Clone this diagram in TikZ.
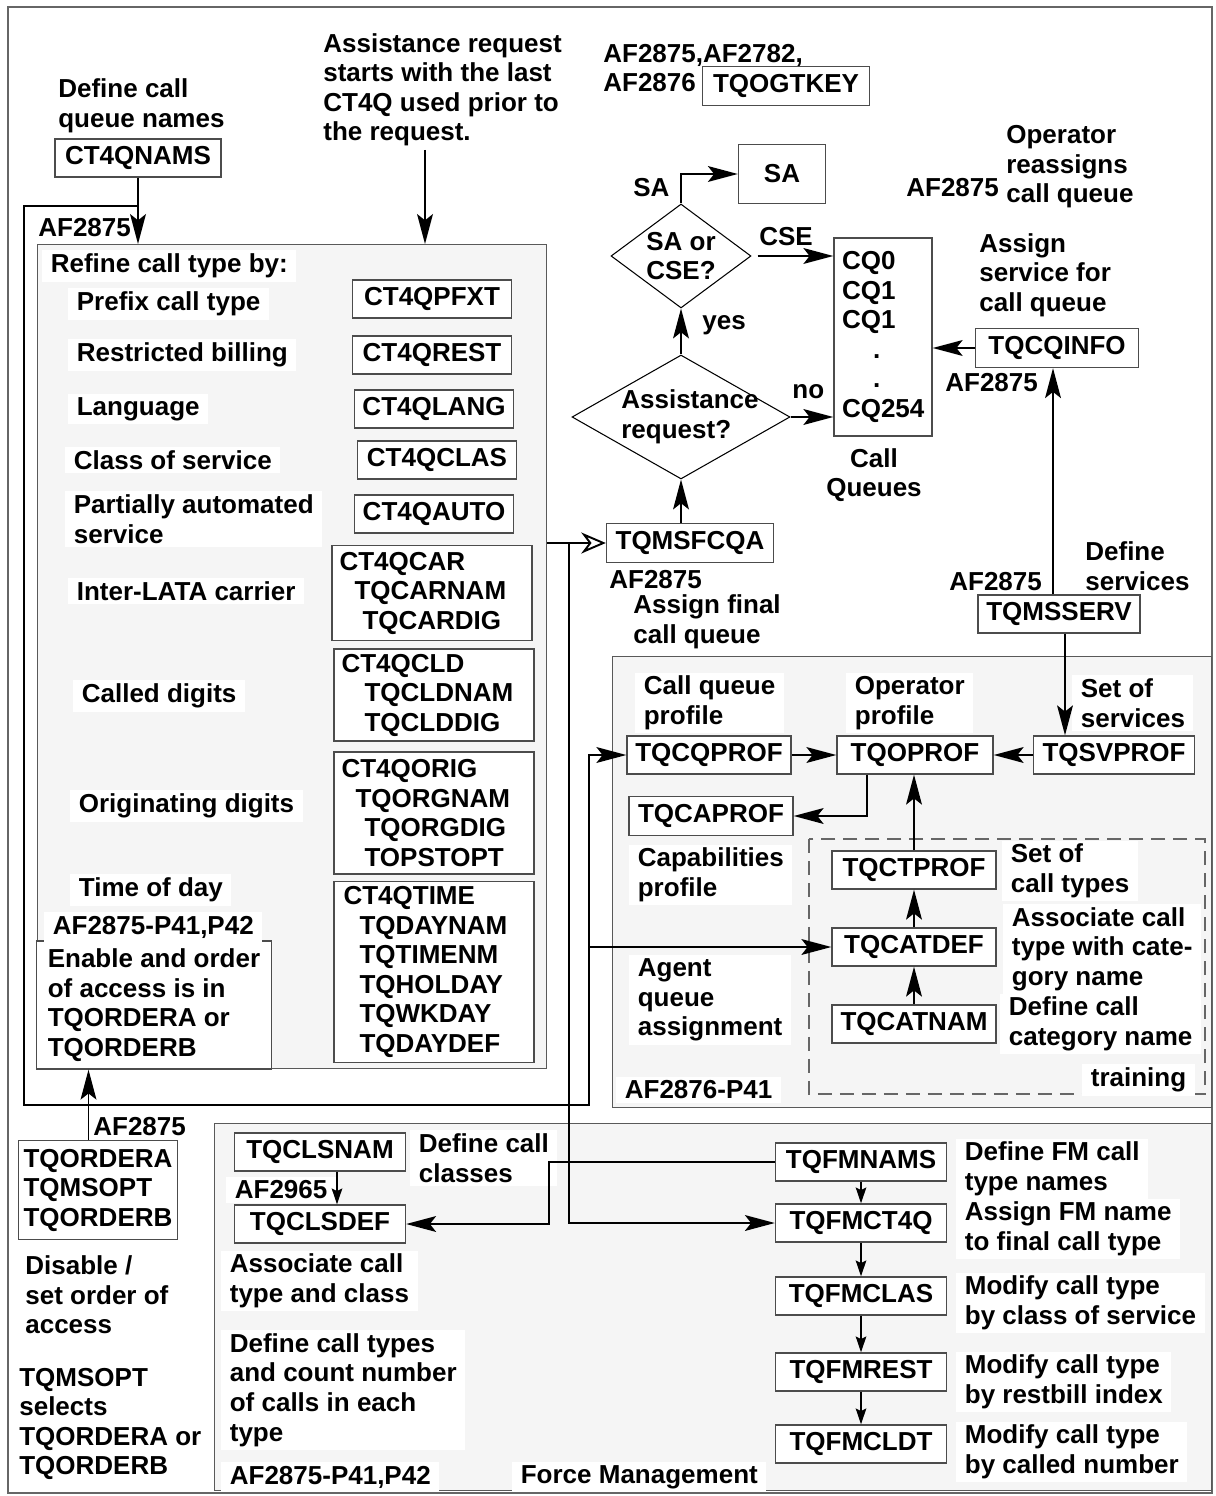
\documentclass[tikz,border=0pt]{standalone}
\usepackage{fontspec}
\setmainfont{Liberation Sans}
\usetikzlibrary{arrows.meta,shapes.geometric}

\tikzset{
  tbl/.style={draw=black!70,fill=white,line width=0.8pt,inner sep=0pt},
  stack/.style={tbl,align=left,inner xsep=0.15cm,text width=3.7cm},
  zone/.style={draw=black!65,fill=black!4,line width=0.8pt,inner sep=0pt,anchor=north west},
  note/.style={fill=white,inner xsep=0.17cm,inner ysep=2pt,anchor=west},
  para/.style={note,align=left},
  bare/.style={inner sep=0pt,align=left,anchor=west},
  decide/.style={diamond,draw,fill=white,line width=0.6pt,inner sep=0pt},
  wire/.style={line width=1.1pt},
  flow/.style={wire,-{Stealth[length=17pt,width=9pt,inset=3.5pt]}},
  tick/.style={wire,-{Stealth[length=9pt,width=6pt,inset=1.5pt]}},
  hollow/.style={wire,-{Stealth[open,length=14pt,width=12pt,inset=4.5pt]}}
}

\begin{document}
\begin{tikzpicture}[x=0.02cm,y=-0.02cm,font=\fontsize{14.8}{16.8}\selectfont\bfseries]
\useasboundingbox (0,0) rectangle (1215,1496);
\draw[black!60,line width=0.6pt] (8,7) rectangle (1212,1493);

% shaded areas
\node[zone,minimum width=10.18cm,minimum height=16.48cm] (refine) at (37,244) {};
\node[zone,minimum width=11.98cm,minimum height=9.02cm] (profarea) at (612,656) {};
\node[zone,minimum width=19.94cm,minimum height=7.34cm] (fmarea) at (214,1123) {};
\draw[black!60,line width=0.6pt,dash pattern=on 0.28cm off 0.16cm] (809,839) rectangle (1205,1094);

% top part
\node[bare] (qnames) at (58,106) {Define call\\queue names};
\node[tbl,minimum width=3.32cm,minimum height=0.76cm] (nams) at (138,158) {CT4QNAMS};
\node[bare] (askx) at (323,90) {Assistance request\\starts with the last\\CT4Q used prior to\\the request.};
\node[bare] (keyaf) at (603,68) {AF2875,AF2782,\\AF2876};
\node[tbl,minimum width=3.34cm,minimum height=0.78cm] (ogtkey) at (786,86) {TQOGTKEY};
\node[bare] (brkaf) at (38,228) {AF2875};

% call type refinement
\node[note] (refl) at (42,266) {Refine call type by:};
\foreach \nm/\x/\y/\txt in {pfxl/68/304/Prefix call type, restl/68/355/Restricted billing,
  langl/68/409/Language, clasl/65/460/Class of service,
  carl/68/591/Inter-LATA carrier, cldl/73/696/Called digits, origl/70/806/Originating digits,
  timel/70/890/Time of day}
  \node[note] (\nm) at (\x,\y) {\txt};
\node[para] (autol) at (65,519) {Partially automated\\service};
\foreach \nm/\x/\y/\txt in {pfxt/432/299/CT4QPFXT, rest/432/355/CT4QREST, lang/434/409/CT4QLANG,
  clas/437/460/CT4QCLAS, auto/434/514/CT4QAUTO}
  \node[tbl,minimum width=3.18cm,minimum height=0.76cm] (\nm) at (\x,\y) {\txt};
\node[stack,minimum height=1.9cm] (car) at (432,593) {CT4QCAR\\\hspace*{0.3cm}TQCARNAM\\\hspace*{0.46cm}TQCARDIG};
\node[stack,minimum height=1.84cm] (cld) at (434,695) {CT4QCLD\\\hspace*{0.46cm}TQCLDNAM\\\hspace*{0.46cm}TQCLDDIG};
\node[stack,minimum height=2.44cm] (orig) at (434,813) {CT4QORIG\\\hspace*{0.28cm}TQORGNAM\\\hspace*{0.46cm}TQORGDIG\\\hspace*{0.46cm}TOPSTOPT};
\node[stack,minimum height=3.62cm] (time) at (434,972) {\hspace*{0.04cm}CT4QTIME\\\hspace*{0.36cm}TQDAYNAM\\\hspace*{0.36cm}TQTIMENM\\\hspace*{0.36cm}TQHOLDAY\\\hspace*{0.36cm}TQWKDAY\\\hspace*{0.36cm}TQDAYDEF};
\node[tbl,align=left,minimum width=4.7cm,minimum height=2.56cm] (enable) at (154,1005) {Enable and order\\of access is in\\TQORDERA or\\TQORDERB};
\node[note] (encode) at (44,927) {AF2875-P41,P42};

% access order
\node[bare] (ordaf) at (93,1127) {AF2875};
\node[tbl,align=left,minimum width=3.18cm,minimum height=1.98cm] (ordera) at (98,1190) {TQORDERA\\TQMSOPT\\TQORDERB};
\node[bare] (distx) at (25,1295) {Disable /\\set order of\\access};
\node[bare] (opttx) at (19,1424) {TQMSOPT\\selects\\TQORDERA or\\TQORDERB};

% call queues
\node[decide,minimum width=2.8cm,minimum height=2.08cm,label={[align=left]center:SA or\\CSE?}] (sacse) at (681,256) {};
\node[decide,minimum width=4.36cm,minimum height=2.48cm,label={[align=left,xshift=0.18cm]center:Assistance\\request?}] (asst) at (681,417) {};
\node[tbl,minimum width=1.74cm,minimum height=1.18cm] (sa) at (782,174) {SA};
\node[bare] (salbl) at (633,188) {SA};
\node[bare] (cselbl) at (759,237) {CSE};
\node[bare] (yeslbl) at (702,325) {yes};
\node[bare] (nolbl) at (792,392) {no};
\node[tbl,align=left,inner xsep=0.16cm,text width=1.64cm,minimum height=3.96cm] (cq) at (883,337) {CQ0\\CQ1\\CQ1\\\hspace*{1.2em}.\\\hspace*{1.2em}.\\CQ254};
\node[align=center,inner sep=0pt] (cqname) at (874,475) {Call\\Queues};
\node[bare] (opaf) at (906,188) {AF2875};
\node[bare] (reasgn) at (1006,167) {Operator\\reassigns\\call queue};
\node[bare] (svcq) at (979,275) {Assign\\service for\\call queue};
\node[tbl,minimum width=3.26cm,minimum height=0.78cm] (cqinfo) at (1057,348) {TQCQINFO};
\node[bare] (infoaf) at (945,383) {AF2875};
\node[tbl,minimum width=3.34cm,minimum height=0.78cm] (sfcqa) at (690,543) {TQMSFCQA};
\node[bare] (fcqaaf) at (609,580) {AF2875};
\node[bare] (fcqatx) at (633,622) {Assign final\\call queue};
\node[bare] (servaf) at (949,582) {AF2875};
\node[bare] (servtx) at (1085,566) {Define\\services};
\node[tbl,minimum width=3.24cm,minimum height=0.76cm] (msserv) at (1059,614) {TQMSSERV};

% operator profiles
\node[para] (cqpl) at (635,703) {Call queue\\profile};
\node[para] (opl) at (846,703) {Operator\\profile};
\node[para] (svpl) at (1072,703) {Set of\\services};
\node[tbl,minimum width=3.28cm,minimum height=0.76cm] (cqprof) at (709,755) {TQCQPROF};
\node[tbl,minimum width=3.12cm,minimum height=0.76cm] (oprof) at (915,755) {TQOPROF};
\node[tbl,minimum width=3.22cm,minimum height=0.76cm] (svprof) at (1114,755) {TQSVPROF};
\node[tbl,minimum width=3.28cm,minimum height=0.78cm] (caprof) at (711,816) {TQCAPROF};
\node[para] (capl) at (629,875) {Capabilities\\profile};
\node[para] (agtl) at (629,1000) {Agent\\queue\\assignment};
\node[note] (p41l) at (616,1090) {AF2876-P41};
\node[note] (trnl) at (1082,1080) {training};
\node[tbl,minimum width=3.28cm,minimum height=0.76cm] (ctprof) at (914,870) {TQCTPROF};
\node[tbl,minimum width=3.28cm,minimum height=0.76cm] (catdef) at (914,947) {TQCATDEF};
\node[tbl,minimum width=3.28cm,minimum height=0.76cm] (catnam) at (914,1024) {TQCATNAM};
\node[para] (ctpl) at (1002,871) {Set of\\call types};
\node[para] (cdfl) at (1003,949) {Associate call\\type with cate-\\gory name};
\node[para] (cnml) at (1000,1024) {Define call\\category name};

% force management
\node[tbl,minimum width=3.42cm,minimum height=0.76cm] (clsnam) at (320,1152) {TQCLSNAM};
\node[tbl,minimum width=3.42cm,minimum height=0.76cm] (clsdef) at (320,1224) {TQCLSDEF};
\node[para] (clsl) at (410,1158) {Define call\\classes};
\node[note] (clsaf) at (226,1190) {AF2965};
\node[para] (asgl) at (221,1281) {Associate call\\type and class};
\node[para] (cntl) at (221,1390) {Define call types\\and count number\\of calls in each\\type};
\node[note] (fmaf) at (221,1477) {AF2875-P41,P42};
\node[note] (fml) at (512,1477) {Force Management};
\foreach \nm/\y/\txt in {fmnams/1162/TQFMNAMS, fmct4q/1223/TQFMCT4Q, fmclas/1296/TQFMCLAS,
  fmrest/1372/TQFMREST, fmcldt/1444/TQFMCLDT}
  \node[tbl,minimum width=3.42cm,minimum height=0.76cm] (\nm) at (861,\y) {\txt};
\foreach \nm/\y/\txt in {fmnl/1169/Define FM call\\type names, fmql/1229/Assign FM name\\to final call type,
  fmcl/1303/Modify call type\\by class of service, fmrl/1382/Modify call type\\by restbill index,
  fmdl/1452/Modify call type\\by called number}
  \node[para] (\nm) at (956,\y) {\txt};

% connectors
\coordinate (brk) at (24,206);
\coordinate (rise) at (589,1105);
\coordinate (drop) at (569,543);
\coordinate (fold) at (549,0);
\coordinate (asktip) at (425,150);
\draw[flow] (nams.south) -- (nams.south |- refine.north);
\draw[flow] (asktip) -- (asktip |- refine.north);
\draw[flow] (nams.south |- brk) -- (brk) -- (brk |- rise) -- (rise) |- (cqprof.west);
\draw[flow] (rise |- catdef.west) -- (catdef.west);
\draw[flow] ([xshift=-0.19cm]ordera.north) -- ([xshift=-0.19cm]ordera.north |- enable.south);
\draw[hollow] (refine.east |- sfcqa.west) -- (sfcqa.west);
\draw[flow] (drop) |- (fmct4q.west);
\draw[flow] (fmnams.west) -- (fmnams.west -| fold) |- (clsdef.east);
\draw[tick] ([xshift=0.34cm]clsnam.south) -- ([xshift=0.34cm]clsnam.south |- clsdef.north);
\foreach \a/\b in {fmnams/fmct4q, fmct4q/fmclas, fmclas/fmrest, fmrest/fmcldt}
  \draw[tick] (\a.south) -- (\a.south |- \b.north);

\draw[flow] (asst.south |- sfcqa.north) -- (asst.south);
\draw[flow] (asst.north) -- (sacse.south);
\draw[flow] (sacse.north) |- (sa.west);
\draw[flow] ([xshift=0.12cm]sacse.east) -- (sacse.east -| cq.west);
\draw[flow] (asst.east) -- (asst.east -| cq.west);
\draw[flow] (cqinfo.west) -- (cqinfo.west -| cq.east);
\draw[flow] ([xshift=-0.12cm]msserv.north) -- ([xshift=-0.12cm]msserv.north |- cqinfo.south);
\draw[flow] ([xshift=0.12cm]msserv.south) -- ([xshift=0.12cm]msserv.south |- svprof.north);

\draw[flow] (cqprof.east) -- (oprof.west);
\draw[flow] (svprof.west) -- (oprof.east);
\draw[flow] ([xshift=-0.96cm]oprof.south) |- (caprof.east);
\draw[flow] (ctprof.north) -- (ctprof.north |- oprof.south);
\draw[flow] (catdef.north) -- (ctprof.south);
\draw[flow] (catnam.north) -- (catdef.south);
\end{tikzpicture}
\end{document}
